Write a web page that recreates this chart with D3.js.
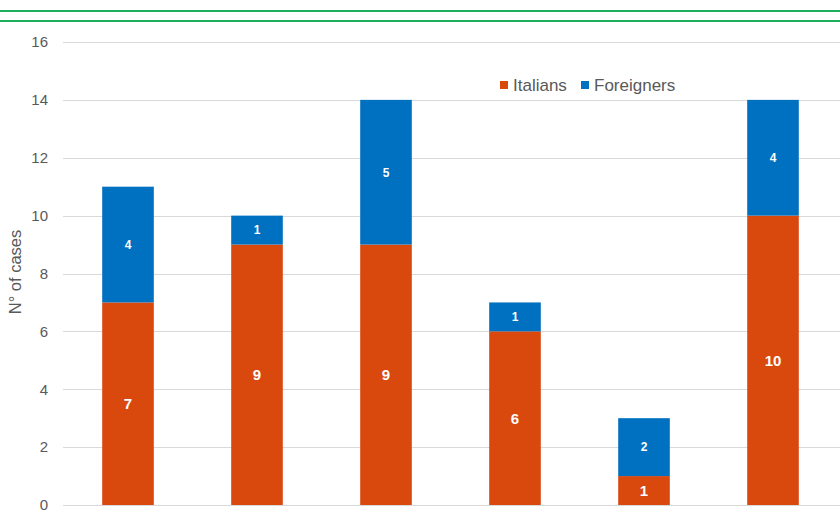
<!DOCTYPE html>
<html><head><meta charset="utf-8">
<script src="https://cdn.jsdelivr.net/npm/d3@7"></script>
<style>body{margin:0;background:#fff}svg{display:block}</style>
</head><body>
<svg id="c" width="840" height="518"></svg>
<script>
const categories = ["1","2","3","4","5","6"];
const italians = [7, 9, 9, 6, 1, 10];
const foreigners = [4, 1, 5, 1, 2, 4];
const yTicks = [0, 2, 4, 6, 8, 10, 12, 14, 16];
const seriesNames = ["Italians", "Foreigners"];
const colors = ["#D9490E", "#0070C0"];

const svg = d3.select("#c");
const font = "Liberation Sans, Arial, sans-serif";

// green header lines
[11, 21].forEach(y => svg.append("line").attr("x1",0).attr("x2",840).attr("y1",y).attr("y2",y)
  .attr("stroke","#1DAE5A").attr("stroke-width",2));

const x = d3.scaleBand().domain(categories).range([63.5, 837.5]).paddingInner(0.6).paddingOuter(0.3);
const y = d3.scaleLinear().domain([0,16]).range([505, 42]);

// gridlines
svg.append("g").selectAll("line").data(yTicks).join("line")
  .attr("x1",63).attr("x2",840).attr("y1",d=>Math.round(y(d))+0.5).attr("y2",d=>Math.round(y(d))+0.5)
  .attr("stroke","#D9D9D9").attr("stroke-width",1);

// y axis labels
const yAxis = d3.axisLeft(y).tickValues(yTicks).tickSize(0).tickPadding(0);
const ga = svg.append("g").attr("transform","translate(48,0)").call(yAxis);
ga.select(".domain").remove();
ga.selectAll("text").attr("font-family",font).attr("font-size",15).attr("fill","#595959");

svg.append("text").attr("transform","translate(21,272) rotate(-90)")
  .attr("text-anchor","middle").attr("font-family",font).attr("font-size",16.5).attr("fill","#595959")
  .text("N° of cases");

const data = categories.map((c,i)=>({cat:c, Italians:italians[i], Foreigners:foreigners[i]}));
const stack = d3.stack().keys(seriesNames)(data);

stack.forEach((layer, li) => {
  const g = svg.append("g");
  g.selectAll("rect").data(layer).join("rect")
    .attr("x", d=>x(d.data.cat)).attr("width", x.bandwidth())
    .attr("y", d=>y(d[1])).attr("height", d=>y(d[0])-y(d[1]))
    .attr("fill", colors[li]);
  g.selectAll("text").data(layer).join("text")
    .attr("x", d=>x(d.data.cat)+x.bandwidth()/2)
    .attr("y", d=>(y(d[0])+y(d[1]))/2)
    .attr("dy","0.36em").attr("text-anchor","middle")
    .attr("font-family",font).attr("font-weight","bold")
    .attr("font-size", li===0 ? 15 : 12).attr("fill","#fff")
    .text(d=>d[1]-d[0]);
});

// legend
const leg = svg.append("g");
const legX = [500, 581];
seriesNames.forEach((n,i)=>{
  leg.append("rect").attr("x",legX[i]).attr("y",81).attr("width",8).attr("height",8).attr("fill",colors[i]);
  leg.append("text").attr("x",legX[i]+13).attr("y",84.5).attr("dy","0.36em")
    .attr("font-family",font).attr("font-size",17).attr("fill","#595959").text(n);
});
</script>
</body></html>
